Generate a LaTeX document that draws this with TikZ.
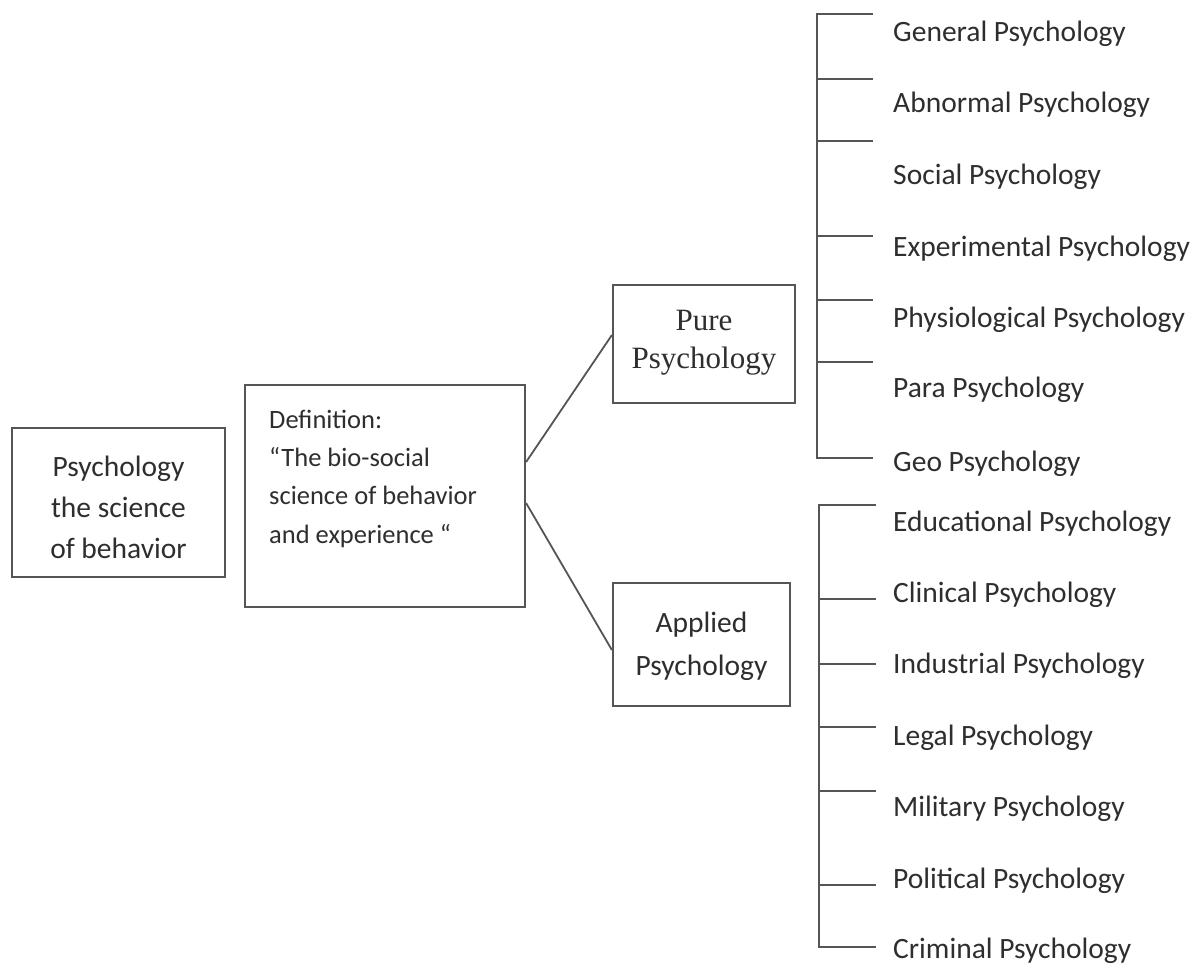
\documentclass[tikz,border=0pt]{standalone}
\usepackage{fontspec}
\setmainfont{Carlito}
\newfontfamily\purefont{Liberation Serif}
\definecolor{ink}{HTML}{2E2E2E}
\definecolor{rulegray}{HTML}{555555}
\begin{document}
\begin{tikzpicture}[x=1pt,y=-1pt,
  box/.style={draw=rulegray, line width=2.2pt, inner sep=0pt},
  txt/.style={text=ink, inner sep=0pt},
  lab/.style={txt, anchor=base west, font=\fontsize{29.5}{36}\selectfont},
  link/.style={draw=rulegray, line width=1.8pt},
  brk/.style={draw=rulegray, line width=2.2pt, line join=miter}]
\useasboundingbox[fill=white] (0,0) rectangle (1199,967);

% boxes (text nodes anchored at the baseline of their last line)
\node[box, minimum width=213pt, minimum height=149pt] (sci) at (118.5,502.5) {};
\node[txt, anchor=base, align=center, font=\fontsize{29.5}{41}\selectfont] (scit) at (118.5,558) {Psychology\\the science\\of behavior};

\node[box, minimum width=280pt, minimum height=222pt] (def) at (385,496) {};
\node[txt, anchor=base west, align=left, font=\fontsize{26.5}{38.3}\selectfont] (deft) at (269,543) {Definition:\\“The bio-social\\science of behavior\\and experience “};

\node[box, minimum width=182pt, minimum height=118pt] (pure) at (704,344) {};
\node[txt, anchor=base, align=center, font=\purefont\fontsize{31}{38}\selectfont] (puret) at (704,368) {Pure\\Psychology};

\node[box, minimum width=177pt, minimum height=123pt] (app) at (701.5,644.5) {};
\node[txt, anchor=base, align=center, font=\fontsize{29.5}{43}\selectfont] (appt) at (701.5,675) {Applied\\Psychology};

% connectors
\draw[link] ([yshift=34pt]def.east) -- ([yshift=9pt]pure.west);
\draw[link] ([yshift=-7pt]def.east) -- ([yshift=-5.5pt]app.west);

% pure branches
\foreach \n/\t/\y in {g1/General Psychology/41, g2/Abnormal Psychology/112, g3/Social Psychology/184, g4/Experimental Psychology/256, g5/Physiological Psychology/327, g6/Para Psychology/397, g7/Geo Psychology/471}
  \node[lab] (\n) at (893,\y) {\t};
\foreach \i/\y in {1/14, 2/79, 3/141, 4/236, 5/300, 6/362, 7/458} {
  \coordinate (ps\i) at (817,\y);
  \coordinate (pe\i) at (873,\y);
}
\draw[brk] (pe1) -- (ps1) -- (ps7) -- (pe7);
\foreach \i in {2,...,6} \draw[brk] (ps\i) -- (pe\i);

% applied branches
\foreach \n/\t/\y in {a1/Educational Psychology/531, a2/Clinical Psychology/602, a3/Industrial Psychology/673, a4/Legal Psychology/745, a5/Military Psychology/816, a6/Political Psychology/888, a7/Criminal Psychology/958}
  \node[lab] (\n) at (893,\y) {\t};
\foreach \i/\y in {1/505, 2/599, 3/664, 4/727, 5/791, 6/885, 7/947} {
  \coordinate (as\i) at (819,\y);
  \coordinate (ae\i) at (876,\y);
}
\draw[brk] (ae1) -- (as1) -- (as7) -- (ae7);
\foreach \i in {2,...,6} \draw[brk] (as\i) -- (ae\i);
\end{tikzpicture}
\end{document}
